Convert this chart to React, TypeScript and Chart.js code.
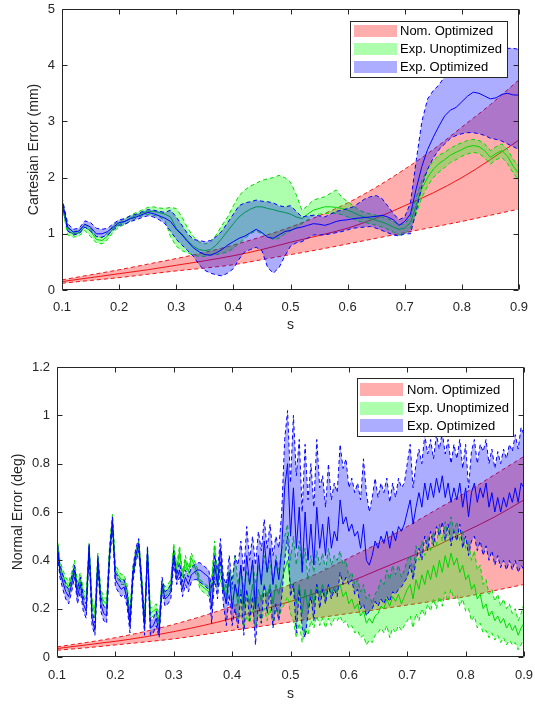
import React, { useEffect, useRef } from 'react';
import { Chart, registerables } from 'chart.js';

Chart.register(...registerables);

// ---------- sampling grids ----------
const TOP_S = Array.from({ length: 81 }, (_, i) => Math.round((0.1 + i * 0.01) * 1000) / 1000);
const BOT_S = Array.from({ length: 161 }, (_, i) => Math.round((0.1 + i * 0.005) * 10000) / 10000);
const RED_S = [0.1, 0.15, 0.2, 0.25, 0.3, 0.35, 0.4, 0.45, 0.5, 0.55, 0.6, 0.65, 0.7, 0.75, 0.8, 0.85, 0.9];

const X_TICKS = [0.1, 0.2, 0.3, 0.4, 0.5, 0.6, 0.7, 0.8, 0.9];
const LEGEND_LABELS = ['Nom. Optimized', 'Exp. Unoptimized', 'Exp. Optimized'];

// ---------- top chart: Cartesian error (mm) ----------
const T_RED_LOW = [0.12, 0.17, 0.22, 0.28, 0.34, 0.39, 0.45, 0.54, 0.63, 0.72, 0.82, 0.92, 1.02, 1.12, 1.22, 1.33, 1.44];
const T_RED_MEAN = [0.15, 0.22, 0.29, 0.36, 0.44, 0.52, 0.61, 0.72, 0.85, 0.97, 1.1, 1.28, 1.5, 1.73, 2.0, 2.32, 2.67];
const T_RED_UP = [0.18, 0.27, 0.36, 0.46, 0.56, 0.67, 0.8, 0.95, 1.12, 1.32, 1.55, 1.83, 2.15, 2.5, 2.9, 3.3, 3.74];

const T_GREEN_UP = [1.6, 1.1, 1.04, 1.06, 1.17, 1.1, 0.95, 0.93, 1.02, 1.16, 1.22, 1.27, 1.33, 1.38, 1.42, 1.47, 1.48, 1.46, 1.45, 1.47, 1.45,
  1.3, 1.1, 0.95, 0.85, 0.82, 0.85, 0.98, 1.15, 1.3, 1.5, 1.68, 1.78, 1.85, 1.9, 1.95, 1.98, 2.0, 2.04, 2.0, 1.92, 1.7,
  1.42, 1.5, 1.6, 1.63, 1.66, 1.72, 1.78, 1.65, 1.57, 1.5, 1.42, 1.38, 1.35, 1.33, 1.3, 1.27, 1.22, 1.16, 1.18, 1.3,
  1.65, 1.95, 2.15, 2.3, 2.4, 2.45, 2.52, 2.58, 2.62, 2.66, 2.68, 2.66, 2.6, 2.48, 2.55, 2.6, 2.5, 2.32, 2.2];
const T_GREEN_MEAN = [1.55, 1.05, 1.0, 1.02, 1.12, 1.05, 0.9, 0.88, 0.96, 1.1, 1.17, 1.22, 1.28, 1.33, 1.37, 1.4, 1.4, 1.38, 1.35, 1.3, 1.1,
  1.0, 0.88, 0.78, 0.72, 0.7, 0.72, 0.8, 0.92, 1.05, 1.18, 1.3, 1.38, 1.44, 1.48, 1.48, 1.45, 1.43, 1.4, 1.38, 1.35, 1.3,
  1.27, 1.35, 1.42, 1.45, 1.48, 1.48, 1.47, 1.45, 1.42, 1.38, 1.33, 1.3, 1.27, 1.24, 1.21, 1.17, 1.12, 1.08, 1.1, 1.2,
  1.5, 1.8, 2.0, 2.15, 2.25, 2.32, 2.4, 2.45, 2.5, 2.55, 2.57, 2.55, 2.48, 2.36, 2.43, 2.48, 2.38, 2.2, 2.07];
const T_GREEN_LOW = [1.5, 0.98, 0.94, 0.96, 1.06, 0.95, 0.84, 0.82, 0.9, 1.04, 1.12, 1.17, 1.23, 1.28, 1.32, 1.35, 1.33, 1.3, 1.24, 0.95, 0.78,
  0.7, 0.66, 0.62, 0.6, 0.6, 0.62, 0.63, 0.65, 0.68, 0.74, 0.83, 0.92, 1.0, 1.05, 1.0, 0.95, 0.9, 0.92, 1.0, 1.05, 1.1,
  1.18, 1.25, 1.33, 1.35, 1.36, 1.37, 1.36, 1.34, 1.3, 1.26, 1.22, 1.2, 1.18, 1.15, 1.12, 1.08, 1.03, 0.98, 1.0, 1.1,
  1.35, 1.65, 1.85, 2.0, 2.1, 2.18, 2.27, 2.32, 2.38, 2.42, 2.45, 2.43, 2.35, 2.24, 2.32, 2.36, 2.25, 2.08, 1.95];

const T_BLUE_UP = [1.65, 1.18, 1.08, 1.1, 1.23, 1.2, 1.1, 1.08, 1.1, 1.18, 1.25, 1.27, 1.32, 1.35, 1.39, 1.43, 1.42, 1.4, 1.38, 1.42, 1.3,
  1.15, 1.0, 0.9, 0.88, 0.86, 0.88, 0.95, 1.05, 1.2, 1.35, 1.5, 1.55, 1.57, 1.6, 1.58, 1.57, 1.55, 1.5, 1.48, 1.5, 1.4,
  1.3, 1.32, 1.33, 1.32, 1.3, 1.35, 1.4, 1.42, 1.45, 1.48, 1.55, 1.62, 1.66, 1.68, 1.63, 1.5, 1.36, 1.25, 1.3, 1.55,
  2.3, 3.0, 3.4, 3.55, 3.65, 3.8, 3.9, 3.95, 4.0, 4.05, 4.1, 4.15, 4.18, 4.2, 4.25, 4.28, 4.3, 4.3, 4.28];
const T_BLUE_MEAN = [1.6, 1.12, 1.03, 1.05, 1.17, 1.12, 1.0, 1.0, 1.04, 1.12, 1.2, 1.22, 1.27, 1.3, 1.34, 1.38, 1.36, 1.32, 1.28, 1.22, 1.08,
  0.98, 0.86, 0.75, 0.68, 0.63, 0.62, 0.66, 0.72, 0.8, 0.86, 0.92, 0.96, 1.02, 1.08, 1.02, 0.94, 0.92, 0.98, 1.04, 1.06, 1.1,
  1.12, 1.15, 1.18, 1.17, 1.15, 1.18, 1.22, 1.24, 1.25, 1.27, 1.28, 1.29, 1.3, 1.31, 1.33, 1.3, 1.25, 1.15, 1.22, 1.35,
  1.8, 2.2, 2.5, 2.72, 2.92, 3.1, 3.2, 3.25, 3.35, 3.45, 3.52, 3.5, 3.45, 3.4, 3.42, 3.48, 3.5, 3.47, 3.47];
const T_BLUE_LOW = [1.55, 1.05, 0.98, 1.0, 1.12, 1.05, 0.95, 0.94, 0.98, 1.07, 1.15, 1.17, 1.22, 1.25, 1.29, 1.32, 1.3, 1.25, 1.18, 1.05, 0.9,
  0.8, 0.7, 0.6, 0.45, 0.35, 0.3, 0.27, 0.25, 0.3, 0.38, 0.55, 0.68, 0.72, 0.76, 0.7, 0.4, 0.3, 0.4, 0.6, 0.78, 0.84,
  0.86, 0.92, 0.98, 0.98, 0.98, 1.0, 1.02, 1.04, 1.07, 1.1, 1.11, 1.12, 1.13, 1.1, 1.06, 1.02, 0.98, 0.96, 1.0, 1.0,
  1.4, 1.85, 2.15, 2.35, 2.5, 2.6, 2.7, 2.75, 2.78, 2.8, 2.8, 2.78, 2.75, 2.7, 2.68, 2.65, 2.6, 2.55, 2.5];

// ---------- bottom chart: Normal error (deg) ----------
const B_RED_LOW = [0.028, 0.038, 0.05, 0.062, 0.075, 0.092, 0.11, 0.127, 0.145, 0.163, 0.18, 0.197, 0.215, 0.233, 0.25, 0.275, 0.3];
const B_RED_MEAN = [0.035, 0.05, 0.065, 0.083, 0.105, 0.13, 0.16, 0.195, 0.23, 0.27, 0.31, 0.36, 0.41, 0.46, 0.52, 0.58, 0.65];
const B_RED_UP = [0.042, 0.06, 0.08, 0.105, 0.135, 0.17, 0.21, 0.255, 0.3, 0.35, 0.41, 0.47, 0.54, 0.61, 0.68, 0.755, 0.83];

const B_GREEN_UP = [0.5, 0.4, 0.36, 0.33, 0.31, 0.35, 0.4, 0.31, 0.35, 0.28, 0.26, 0.47, 0.24, 0.2, 0.43, 0.28, 0.25, 0.24, 0.46, 0.59,
  0.38, 0.36, 0.34, 0.34, 0.3, 0.19, 0.37, 0.44, 0.48, 0.34, 0.17, 0.45, 0.2, 0.21, 0.22, 0.17, 0.32, 0.29, 0.3, 0.32, 0.47,
  0.38, 0.46, 0.35, 0.42, 0.37, 0.43, 0.4, 0.37, 0.32, 0.31, 0.3, 0.29, 0.33, 0.48, 0.33, 0.38, 0.33, 0.28, 0.36, 0.32,
  0.42, 0.3, 0.38, 0.28, 0.36, 0.3, 0.4, 0.3, 0.38, 0.32, 0.42, 0.35, 0.4, 0.3, 0.42, 0.36, 0.45, 0.5, 0.55, 0.4,
  0.5, 0.38, 0.48, 0.36, 0.45, 0.32, 0.42, 0.35, 0.44, 0.38, 0.43, 0.36, 0.45, 0.38, 0.42, 0.4, 0.44, 0.38, 0.4, 0.33,
  0.35, 0.3, 0.32, 0.27, 0.3, 0.24, 0.26, 0.22, 0.26, 0.28, 0.32, 0.3, 0.36, 0.32, 0.38, 0.34, 0.38, 0.33, 0.36, 0.4,
  0.42, 0.35, 0.46, 0.4, 0.48, 0.42, 0.5, 0.44, 0.52, 0.46, 0.55, 0.48, 0.56, 0.5, 0.58, 0.52, 0.56, 0.48, 0.52, 0.45,
  0.48, 0.4, 0.44, 0.36, 0.38, 0.3, 0.32, 0.26, 0.28, 0.23, 0.26, 0.21, 0.24, 0.2, 0.22, 0.18, 0.2, 0.15, 0.18, 0.22];
const B_GREEN_MEAN = [0.49, 0.38, 0.34, 0.31, 0.29, 0.33, 0.38, 0.29, 0.33, 0.26, 0.24, 0.46, 0.22, 0.18, 0.41, 0.26, 0.23, 0.22, 0.44, 0.58,
  0.36, 0.34, 0.32, 0.32, 0.28, 0.17, 0.35, 0.42, 0.46, 0.32, 0.15, 0.43, 0.18, 0.19, 0.2, 0.15, 0.3, 0.27, 0.28, 0.3, 0.45,
  0.36, 0.44, 0.33, 0.4, 0.35, 0.41, 0.38, 0.35, 0.3, 0.29, 0.28, 0.27, 0.3, 0.46, 0.3, 0.35, 0.3, 0.25, 0.33, 0.28,
  0.3, 0.22, 0.28, 0.2, 0.27, 0.22, 0.3, 0.2, 0.28, 0.23, 0.3, 0.25, 0.3, 0.22, 0.3, 0.26, 0.32, 0.36, 0.4, 0.3,
  0.3, 0.22, 0.3, 0.18, 0.28, 0.2, 0.28, 0.22, 0.3, 0.25, 0.3, 0.24, 0.3, 0.26, 0.29, 0.27, 0.3, 0.25, 0.27, 0.22,
  0.24, 0.2, 0.22, 0.17, 0.19, 0.14, 0.16, 0.14, 0.17, 0.18, 0.21, 0.2, 0.24, 0.21, 0.25, 0.23, 0.26, 0.22, 0.25, 0.28,
  0.3, 0.24, 0.32, 0.28, 0.34, 0.3, 0.36, 0.32, 0.38, 0.33, 0.4, 0.35, 0.42, 0.37, 0.43, 0.38, 0.41, 0.35, 0.38, 0.32,
  0.34, 0.28, 0.3, 0.24, 0.26, 0.2, 0.22, 0.17, 0.19, 0.15, 0.17, 0.14, 0.16, 0.12, 0.14, 0.11, 0.13, 0.09, 0.12, 0.14];
const B_GREEN_LOW = [0.47, 0.36, 0.32, 0.29, 0.27, 0.31, 0.36, 0.27, 0.31, 0.24, 0.22, 0.44, 0.2, 0.16, 0.39, 0.24, 0.21, 0.2, 0.42, 0.56,
  0.34, 0.32, 0.3, 0.3, 0.26, 0.15, 0.33, 0.4, 0.44, 0.3, 0.13, 0.41, 0.16, 0.17, 0.18, 0.13, 0.28, 0.25, 0.26, 0.28, 0.43,
  0.34, 0.42, 0.31, 0.38, 0.33, 0.39, 0.36, 0.33, 0.28, 0.27, 0.26, 0.25, 0.27, 0.43, 0.27, 0.32, 0.27, 0.22, 0.3, 0.24,
  0.2, 0.15, 0.18, 0.12, 0.17, 0.14, 0.2, 0.12, 0.18, 0.14, 0.2, 0.15, 0.2, 0.13, 0.2, 0.16, 0.2, 0.22, 0.25, 0.18,
  0.15, 0.08, 0.14, 0.06, 0.12, 0.09, 0.15, 0.12, 0.17, 0.13, 0.16, 0.12, 0.16, 0.13, 0.16, 0.15, 0.17, 0.14, 0.15, 0.12,
  0.13, 0.1, 0.11, 0.08, 0.09, 0.05, 0.07, 0.06, 0.09, 0.1, 0.12, 0.1, 0.13, 0.08, 0.12, 0.1, 0.13, 0.11, 0.13, 0.15,
  0.17, 0.12, 0.18, 0.15, 0.2, 0.17, 0.22, 0.19, 0.24, 0.2, 0.25, 0.21, 0.27, 0.23, 0.28, 0.24, 0.26, 0.21, 0.24, 0.19,
  0.2, 0.15, 0.17, 0.12, 0.14, 0.1, 0.11, 0.08, 0.1, 0.07, 0.09, 0.06, 0.08, 0.05, 0.07, 0.05, 0.06, 0.03, 0.05, 0.08];

const B_BLUE_UP = [0.49, 0.38, 0.34, 0.3, 0.28, 0.33, 0.38, 0.28, 0.33, 0.25, 0.22, 0.47, 0.19, 0.14, 0.42, 0.25, 0.21, 0.2, 0.44, 0.58,
  0.35, 0.33, 0.31, 0.32, 0.27, 0.16, 0.37, 0.45, 0.49, 0.33, 0.15, 0.46, 0.15, 0.16, 0.19, 0.13, 0.33, 0.27, 0.28, 0.3, 0.44,
  0.34, 0.39, 0.31, 0.36, 0.33, 0.37, 0.38, 0.39, 0.39, 0.38, 0.37, 0.36, 0.28, 0.42, 0.36, 0.49, 0.33, 0.3, 0.42, 0.3,
  0.42, 0.38, 0.48, 0.35, 0.54, 0.4, 0.5, 0.38, 0.52, 0.44, 0.57, 0.45, 0.55, 0.42, 0.5, 0.45, 0.6, 0.9, 1.02, 0.72,
  1.0, 0.75, 0.9, 0.6, 0.88, 0.65, 0.8, 0.62, 0.9, 0.7, 0.75, 0.62, 0.8, 0.65, 0.72, 0.68, 0.88, 0.78, 0.82, 0.7,
  0.74, 0.68, 0.72, 0.65, 0.82, 0.68, 0.6, 0.66, 0.74, 0.66, 0.72, 0.68, 0.74, 0.64, 0.72, 0.66, 0.74, 0.7, 0.72, 0.8,
  0.88, 0.7, 0.8, 0.86, 0.8, 0.92, 0.84, 0.9, 0.82, 0.92, 0.86, 0.93, 0.84, 0.9, 0.8, 0.88, 0.82, 0.9, 0.78, 0.88,
  0.7, 0.85, 0.9, 0.8, 0.88, 0.85, 0.9, 0.8, 0.86, 0.78, 0.85, 0.8, 0.86, 0.82, 0.88, 0.85, 0.92, 0.86, 0.95, 0.92];
const B_BLUE_MEAN = [0.47, 0.35, 0.31, 0.27, 0.25, 0.3, 0.36, 0.25, 0.3, 0.22, 0.19, 0.45, 0.16, 0.11, 0.4, 0.22, 0.18, 0.17, 0.42, 0.56,
  0.32, 0.3, 0.28, 0.29, 0.24, 0.13, 0.34, 0.42, 0.47, 0.3, 0.12, 0.44, 0.12, 0.13, 0.16, 0.1, 0.3, 0.24, 0.25, 0.27, 0.42,
  0.32, 0.36, 0.28, 0.33, 0.3, 0.34, 0.35, 0.36, 0.36, 0.35, 0.34, 0.33, 0.2, 0.38, 0.3, 0.45, 0.28, 0.22, 0.35, 0.2,
  0.3, 0.25, 0.38, 0.22, 0.42, 0.3, 0.4, 0.2, 0.42, 0.3, 0.48, 0.35, 0.45, 0.3, 0.4, 0.32, 0.45, 0.7, 0.8, 0.5,
  0.7, 0.45, 0.62, 0.35, 0.6, 0.4, 0.55, 0.38, 0.62, 0.45, 0.55, 0.42, 0.58, 0.45, 0.52, 0.48, 0.65, 0.55, 0.58, 0.52,
  0.55, 0.5, 0.52, 0.45, 0.55, 0.4, 0.38, 0.42, 0.48, 0.45, 0.5, 0.47, 0.52, 0.45, 0.52, 0.48, 0.54, 0.52, 0.55, 0.6,
  0.65, 0.55, 0.62, 0.68, 0.62, 0.72, 0.65, 0.72, 0.66, 0.74, 0.68, 0.75, 0.66, 0.72, 0.64, 0.7, 0.65, 0.72, 0.62, 0.7,
  0.58, 0.68, 0.72, 0.64, 0.7, 0.66, 0.72, 0.62, 0.68, 0.6, 0.66, 0.6, 0.66, 0.62, 0.68, 0.64, 0.7, 0.64, 0.72, 0.7];
const B_BLUE_LOW = [0.45, 0.33, 0.28, 0.24, 0.22, 0.27, 0.33, 0.22, 0.27, 0.19, 0.16, 0.42, 0.13, 0.09, 0.37, 0.19, 0.15, 0.14, 0.39, 0.53,
  0.29, 0.27, 0.25, 0.26, 0.21, 0.1, 0.31, 0.39, 0.44, 0.27, 0.09, 0.41, 0.09, 0.1, 0.13, 0.08, 0.27, 0.21, 0.22, 0.24, 0.39,
  0.3, 0.33, 0.25, 0.3, 0.27, 0.31, 0.32, 0.32, 0.31, 0.3, 0.29, 0.28, 0.14, 0.33, 0.24, 0.4, 0.22, 0.13, 0.26, 0.13,
  0.2, 0.12, 0.26, 0.09, 0.28, 0.15, 0.25, 0.05, 0.22, 0.14, 0.3, 0.18, 0.28, 0.12, 0.22, 0.15, 0.25, 0.4, 0.5, 0.25,
  0.3, 0.1, 0.28, 0.12, 0.08, 0.18, 0.25, 0.15, 0.3, 0.2, 0.28, 0.22, 0.3, 0.24, 0.28, 0.25, 0.35, 0.3, 0.33, 0.3,
  0.32, 0.26, 0.28, 0.2, 0.22, 0.17, 0.19, 0.2, 0.23, 0.21, 0.24, 0.22, 0.25, 0.23, 0.27, 0.26, 0.28, 0.29, 0.31, 0.33,
  0.38, 0.32, 0.4, 0.45, 0.4, 0.5, 0.44, 0.52, 0.46, 0.54, 0.5, 0.56, 0.48, 0.55, 0.46, 0.52, 0.48, 0.55, 0.45, 0.5,
  0.42, 0.48, 0.5, 0.44, 0.48, 0.42, 0.46, 0.4, 0.44, 0.38, 0.42, 0.37, 0.4, 0.36, 0.4, 0.36, 0.4, 0.35, 0.38, 0.36];

// ---------- styles ----------
const FONT = "'Liberation Sans', Arial, Helvetica, sans-serif";
const AXIS_COLOR = '#262626';
const RED_LINE = 'rgb(240,20,20)';
const GREEN_LINE = 'rgb(0,215,0)';
const BLUE_LINE = 'rgb(0,0,255)';
const RED_FILL = 'rgba(255,0,0,0.32)';
const GREEN_FILL = 'rgba(0,255,0,0.32)';
const BLUE_FILL = 'rgba(0,0,255,0.32)';
const LEGEND_FILLS = [RED_FILL, GREEN_FILL, BLUE_FILL];

function pts(xs: number[], ys: number[]) {
  return ys.map((y, i) => ({ x: xs[i], y }));
}

function band(label: string, xs: number[], mean: number[], up: number[], low: number[],
  line: string, fill: string, order: number, smooth: boolean) {
  const common: any = {
    pointRadius: 0, borderWidth: 1, order, borderColor: line,
    tension: smooth ? 0.4 : 0,
    cubicInterpolationMode: smooth ? 'monotone' : 'default',
  };
  return [
    { ...common, label: label + ' mean', data: pts(xs, mean), fill: false },
    { ...common, label, data: pts(xs, up), borderDash: [4, 3], fill: '+1', backgroundColor: fill },
    { ...common, label: label + ' lower', data: pts(xs, low), borderDash: [4, 3], fill: false },
  ];
}

type LegendCfg = { x: number; y: number; w: number; h: number; rows: number[]; swX: number; swW: number; swH: number; textX: number };

function framePlugin(legend: LegendCfg) {
  return {
    id: 'frame',
    afterDatasetsDraw(chart: any) {
      const { ctx, chartArea: a, scales } = chart;
      const L = Math.round(a.left) + 0.5, R = Math.round(a.right) - 0.5;
      const T = Math.round(a.top) + 0.5, B = Math.round(a.bottom) - 0.5;
      const tk = 5;
      ctx.save();
      ctx.strokeStyle = AXIS_COLOR;
      ctx.lineWidth = 1;
      ctx.beginPath();
      ctx.rect(L, T, R - L, B - T);
      for (const t of scales.x.ticks) {
        const px = Math.round(scales.x.getPixelForValue(t.value)) + 0.5;
        ctx.moveTo(px, B); ctx.lineTo(px, B - tk);
        ctx.moveTo(px, T); ctx.lineTo(px, T + tk);
      }
      for (const t of scales.y.ticks) {
        const py = Math.round(scales.y.getPixelForValue(t.value)) + 0.5;
        ctx.moveTo(L, py); ctx.lineTo(L + tk, py);
        ctx.moveTo(R, py); ctx.lineTo(R - tk, py);
      }
      ctx.stroke();
      ctx.restore();
    },
    afterDraw(chart: any) {
      const ctx = chart.ctx;
      ctx.save();
      ctx.fillStyle = '#ffffff';
      ctx.fillRect(legend.x, legend.y, legend.w, legend.h);
      ctx.strokeStyle = AXIS_COLOR;
      ctx.lineWidth = 1;
      ctx.strokeRect(legend.x + 0.5, legend.y + 0.5, legend.w, legend.h);
      ctx.font = `13px ${FONT}`;
      ctx.textBaseline = 'middle';
      ctx.textAlign = 'left';
      LEGEND_LABELS.forEach((lab, i) => {
        const cy = legend.rows[i];
        ctx.fillStyle = LEGEND_FILLS[i];
        ctx.fillRect(legend.swX, Math.round(cy - legend.swH / 2), legend.swW, legend.swH);
        ctx.fillStyle = '#000000';
        ctx.fillText(lab, legend.textX, cy + 0.5);
      });
      ctx.restore();
    },
  };
}

type ChartSpec = {
  height: number;
  area: { left: number; top: number; right: number; bottom: number };
  yMax: number; yStep: number; yTitle: string; yTitlePad: number; xTitlePad: number; xTickPad: number;
  datasets: any[]; legend: LegendCfg;
};

function buildConfig(spec: ChartSpec, width: number): any {
  const fmt = (v: any) => String(parseFloat(Number(v).toFixed(1)));
  return {
    type: 'line',
    data: { datasets: spec.datasets },
    options: {
      animation: false,
      responsive: false,
      events: [],
      layout: { padding: { left: 0, top: spec.area.top, right: width - spec.area.right, bottom: 0 } },
      plugins: { legend: { display: false }, tooltip: { enabled: false } },
      scales: {
        x: {
          type: 'linear', min: 0.1, max: 0.9,
          afterBuildTicks: (s: any) => { s.ticks = X_TICKS.map((v) => ({ value: v })); },
          afterFit: (s: any) => { s.height = spec.height - spec.area.bottom; s.paddingLeft = 0; s.paddingRight = 0; },
          grid: { display: false, drawTicks: false },
          border: { display: false },
          ticks: { color: AXIS_COLOR, font: { family: FONT, size: 13 }, padding: spec.xTickPad, maxRotation: 0, autoSkip: false, callback: fmt },
          title: { display: true, text: 's', color: AXIS_COLOR, font: { family: FONT, size: 14 }, padding: { top: 0, bottom: spec.xTitlePad } },
        },
        y: {
          type: 'linear', min: 0, max: spec.yMax,
          afterFit: (s: any) => { s.width = spec.area.left; s.paddingTop = 0; s.paddingBottom = 0; },
          grid: { display: false, drawTicks: false },
          border: { display: false },
          ticks: { color: AXIS_COLOR, font: { family: FONT, size: 13 }, padding: 7, stepSize: spec.yStep, autoSkip: false, callback: fmt },
          title: { display: true, text: spec.yTitle, color: AXIS_COLOR, font: { family: FONT, size: 14 }, padding: { top: spec.yTitlePad, bottom: 0 } },
        },
      },
    },
    plugins: [framePlugin(spec.legend)],
  };
}

function ChartCanvas({ spec, width }: { spec: ChartSpec; width: number }) {
  const ref = useRef<HTMLCanvasElement>(null);
  useEffect(() => {
    const chart = new Chart(ref.current as HTMLCanvasElement, buildConfig(spec, width));
    return () => chart.destroy();
  }, []);
  return <canvas ref={ref} width={width} height={spec.height} style={{ display: 'block', width, height: spec.height }} />;
}

const TOP_SPEC: ChartSpec = {
  height: 345,
  area: { left: 62, top: 9, right: 519, bottom: 290 },
  yMax: 5, yStep: 1, yTitle: 'Cartesian Error (mm)', yTitlePad: 26, xTitlePad: 11, xTickPad: 10,
  datasets: [
    ...band('Exp. Optimized', TOP_S, T_BLUE_MEAN, T_BLUE_UP, T_BLUE_LOW, BLUE_LINE, BLUE_FILL, 1, false),
    ...band('Exp. Unoptimized', TOP_S, T_GREEN_MEAN, T_GREEN_UP, T_GREEN_LOW, GREEN_LINE, GREEN_FILL, 2, false),
    ...band('Nom. Optimized', RED_S, T_RED_MEAN, T_RED_UP, T_RED_LOW, RED_LINE, RED_FILL, 3, true),
  ],
  legend: { x: 350, y: 21, w: 157, h: 56, rows: [31, 49, 67], swX: 354, swW: 43, swH: 12, textX: 400 },
};

const BOTTOM_SPEC: ChartSpec = {
  height: 360,
  area: { left: 57, top: 22, right: 524, bottom: 312 },
  yMax: 1.2, yStep: 0.2, yTitle: 'Normal Error (deg)', yTitlePad: 10, xTitlePad: 2, xTickPad: 11,
  datasets: [
    ...band('Exp. Optimized', BOT_S, B_BLUE_MEAN, B_BLUE_UP, B_BLUE_LOW, BLUE_LINE, BLUE_FILL, 1, false),
    ...band('Exp. Unoptimized', BOT_S, B_GREEN_MEAN, B_GREEN_UP, B_GREEN_LOW, GREEN_LINE, GREEN_FILL, 2, false),
    ...band('Nom. Optimized', RED_S, B_RED_MEAN, B_RED_UP, B_RED_LOW, RED_LINE, RED_FILL, 3, true),
  ],
  legend: { x: 357, y: 33, w: 156, h: 58, rows: [44.5, 63, 80.5], swX: 360, swW: 43, swH: 13, textX: 407 },
};

export default function App() {
  return (
    <div style={{ position: 'absolute', left: 0, top: 0, width: 535, height: 705, background: '#ffffff' }}>
      <ChartCanvas spec={TOP_SPEC} width={535} />
      <ChartCanvas spec={BOTTOM_SPEC} width={535} />
    </div>
  );
}
